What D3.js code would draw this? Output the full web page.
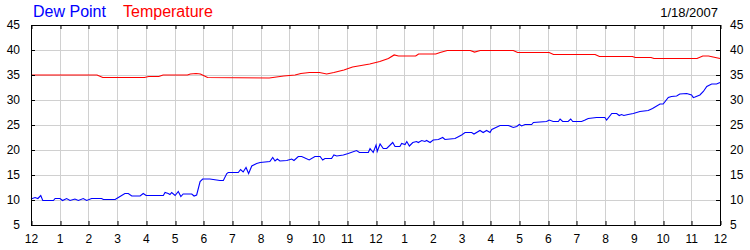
<!DOCTYPE html>
<html>
<head>
<meta charset="utf-8">
<script src="https://cdn.jsdelivr.net/npm/d3@7"></script>
<style>
  html, body { margin: 0; padding: 0; background: #fff; }
  svg { display: block; font-family: "Liberation Sans", Arial, sans-serif; }
</style>
</head>
<body>
<svg id="chart" width="750" height="250"></svg>
<script>
// ---- data ----
const dateLabel = "1/18/2007";
const seriesNames = ["Dew Point", "Temperature"];
const hourTickLabels = ["12","1","2","3","4","5","6","7","8","9","10","11",
                        "12","1","2","3","4","5","6","7","8","9","10","11","12"];
const yTickValues = [5, 10, 15, 20, 25, 30, 35, 40, 45];

const tempHours = [0, 2.3, 2.5, 3.95, 4.1, 4.45, 4.6, 5.45, 5.55, 5.75, 5.9, 6.15, 8.3, 8.8, 9.2, 9.4, 9.7, 10.05, 10.3, 10.55, 10.9, 11.2, 11.5, 11.8, 12.15, 12.45, 12.65, 12.8, 13.4, 13.5, 14.1, 14.25, 14.5, 15.3, 15.45, 15.65, 16.8, 16.95, 18.05, 18.2, 19.65, 19.8, 20.95, 21.05, 21.6, 21.7, 23.2, 23.4, 23.6, 24];
const tempValues = [35.0, 35.0, 34.5, 34.5, 34.7, 34.7, 35.0, 35.0, 35.2, 35.3, 35.2, 34.5, 34.4, 34.8, 35.0, 35.3, 35.5, 35.5, 35.2, 35.5, 36.0, 36.6, 36.9, 37.2, 37.7, 38.3, 39.0, 38.8, 38.8, 39.2, 39.2, 39.5, 39.9, 39.9, 39.6, 39.9, 39.9, 39.5, 39.5, 39.1, 39.1, 38.7, 38.7, 38.5, 38.5, 38.3, 38.3, 38.8, 38.8, 38.3];

const dewHours = [0, 0.14, 0.24, 0.34, 0.41, 0.78, 0.84, 1.01, 1.10, 1.24, 1.36, 1.53, 1.65, 1.82, 1.94, 2.11, 2.46, 2.52, 2.93, 3.10, 3.27, 3.39, 3.51, 3.80, 3.91, 4.01, 4.61, 4.67, 4.78, 4.84, 4.90, 5.02, 5.13, 5.22, 5.30, 5.60, 5.68, 5.77, 5.89, 5.98, 6.23, 6.58, 6.70, 6.82, 6.87, 7.22, 7.30, 7.39, 7.49, 7.58, 7.69, 7.86, 7.98, 8.32, 8.42, 8.50, 8.58, 8.67, 8.91, 9.08, 9.16, 9.31, 9.43, 9.69, 9.89, 10.07, 10.16, 10.24, 10.47, 10.55, 10.65, 10.88, 11.05, 11.34, 11.44, 11.75, 11.81, 11.92, 12.02, 12.06, 12.16, 12.27, 12.39, 12.60, 12.68, 12.85, 12.91, 13.03, 13.09, 13.18, 13.30, 13.43, 13.49, 13.61, 13.72, 13.78, 13.90, 14.01, 14.19, 14.34, 14.42, 14.77, 15.00, 15.12, 15.35, 15.43, 15.64, 15.75, 15.87, 15.99, 16.05, 16.34, 16.63, 16.80, 16.92, 17.01, 17.09, 17.21, 17.44, 17.50, 17.96, 18.05, 18.19, 18.37, 18.43, 18.52, 18.71, 18.80, 18.87, 19.18, 19.30, 19.41, 19.70, 19.99, 20.05, 20.23, 20.40, 20.49, 20.57, 20.65, 20.80, 20.98, 21.21, 21.50, 21.65, 21.91, 22.02, 22.20, 22.31, 22.49, 22.60, 22.84, 23.01, 23.07, 23.13, 23.30, 23.42, 23.54, 23.71, 23.88, 24.00];
const dewValues = [10.2, 10.5, 10.3, 10.9, 9.9, 9.9, 10.3, 10.3, 9.9, 10.3, 9.9, 10.2, 9.9, 10.3, 9.9, 10.3, 10.3, 10.1, 10.1, 10.7, 11.3, 11.3, 10.8, 10.8, 11.3, 10.9, 10.9, 11.5, 11.3, 11.1, 11.5, 10.9, 11.7, 10.7, 11.2, 11.2, 10.8, 11.0, 13.7, 14.2, 14.2, 13.9, 13.9, 15.3, 15.5, 15.5, 16.1, 15.6, 16.5, 15.3, 16.8, 17.3, 17.5, 17.7, 18.5, 17.8, 18.2, 17.8, 17.9, 18.2, 17.9, 18.7, 18.7, 18.0, 18.7, 18.7, 18.0, 18.3, 18.3, 19.0, 18.8, 19.0, 19.3, 19.9, 19.5, 19.5, 20.3, 19.5, 21.0, 19.7, 21.2, 20.3, 20.3, 21.5, 20.7, 20.7, 21.3, 21.1, 21.7, 20.8, 21.5, 21.7, 21.5, 21.9, 21.7, 21.9, 21.5, 22.0, 22.1, 22.5, 22.1, 22.3, 23.0, 23.5, 23.5, 23.2, 23.9, 23.5, 23.9, 23.5, 24.1, 24.9, 24.9, 24.5, 24.7, 25.1, 24.8, 25.1, 25.1, 25.5, 25.7, 26.0, 25.7, 25.7, 26.2, 25.7, 25.7, 26.2, 25.7, 25.7, 26.0, 26.3, 26.5, 26.5, 26.0, 27.3, 27.3, 26.9, 27.1, 26.9, 27.1, 27.3, 27.7, 27.9, 28.3, 29.2, 29.2, 30.5, 30.7, 30.8, 31.2, 31.3, 31.0, 30.5, 30.6, 31.0, 31.7, 32.7, 33.2, 33.2, 33.5];

// ---- layout ----
const W = 750, H = 250;
const margin = { left: 31, right: 30, top: 25, bottom: 25 };
const svg = d3.select("#chart");

const x = d3.scaleLinear().domain([0, 24]).range([margin.left, W - margin.right]);
const y = d3.scaleLinear().domain([5, 45]).range([H - margin.bottom, margin.top]);
const hourTicks = d3.range(0, 25);
const crisp = v => Math.round(v) + 0.5;

// grid
const grid = svg.append("g").attr("stroke", "#d0d0d0").attr("stroke-width", 1);
grid.selectAll("line.v").data(hourTicks.slice(1, -1)).join("line").attr("class", "v")
  .attr("x1", d => crisp(x(d))).attr("x2", d => crisp(x(d)))
  .attr("y1", y(45)).attr("y2", y(5));
grid.selectAll("line.h").data(yTickValues.slice(1, -1)).join("line").attr("class", "h")
  .attr("x1", x(0)).attr("x2", x(24))
  .attr("y1", d => crisp(y(d))).attr("y2", d => crisp(y(d)));

// lines
const line = d3.line().x(d => x(d[0])).y(d => y(d[1]));
svg.append("path").datum(d3.zip(tempHours, tempValues))
  .attr("fill", "none").attr("stroke", "#ff0000").attr("stroke-width", 1.2)
  .attr("d", line);
svg.append("path").datum(d3.zip(dewHours, dewValues))
  .attr("fill", "none").attr("stroke", "#0000ff").attr("stroke-width", 1.1)
  .attr("d", line);

// axes
function styleAxis(g) {
  g.selectAll(".domain").remove();
  g.selectAll(".tick line").attr("stroke", "#000");
  g.selectAll(".tick text").attr("fill", "#000")
    .style("font-family", "'Liberation Sans', Arial, sans-serif").style("font-size", "12px");
}
const bottomAxisG = svg.append("g").attr("transform", `translate(0,${y(5)})`)
  .call(d3.axisBottom(x).tickValues(hourTicks).tickFormat((d, i) => hourTickLabels[i])
    .tickSizeInner(-4).tickSizeOuter(0).tickPadding(9))
  .call(styleAxis);
bottomAxisG.selectAll(".tick line").attr("transform", d => `translate(${crisp(x(d)) - x(d)},0)`);

const topAxisG = svg.append("g").attr("transform", `translate(0,${y(45)})`)
  .call(d3.axisTop(x).tickValues(hourTicks).tickFormat("").tickSizeInner(-4).tickSizeOuter(0))
  .call(styleAxis);
topAxisG.selectAll(".tick line").attr("transform", d => `translate(${crisp(x(d)) - x(d)},0)`);

svg.append("g").attr("transform", `translate(${x(0)},0)`)
  .call(d3.axisLeft(y).tickValues(yTickValues).tickFormat(d3.format("d"))
    .tickSizeInner(-4).tickSizeOuter(0).tickPadding(11))
  .call(styleAxis);
svg.append("g").attr("transform", `translate(${x(24)},0)`)
  .call(d3.axisRight(y).tickValues(yTickValues).tickFormat(d3.format("d"))
    .tickSizeInner(-4).tickSizeOuter(0).tickPadding(10))
  .call(styleAxis);

// frame
svg.append("rect")
  .attr("x", crisp(x(0))).attr("y", crisp(y(45)))
  .attr("width", Math.round(x(24)) - Math.round(x(0)))
  .attr("height", Math.round(y(5)) - Math.round(y(45)))
  .attr("fill", "none").attr("stroke", "#000").attr("stroke-width", 1);

// legend + date
const legendColors = ["#0000ff", "#ff0000"];
const legendX = [33, 123];
svg.selectAll("text.legend").data(seriesNames).join("text")
  .attr("class", "legend")
  .attr("x", (d, i) => legendX[i]).attr("y", 17)
  .attr("fill", (d, i) => legendColors[i])
  .style("font-size", "16px")
  .text(d => d);
svg.append("text").attr("x", 718).attr("y", 17).attr("text-anchor", "end")
  .attr("fill", "#000").style("font-size", "13px").text(dateLabel);
</script>
</body>
</html>
